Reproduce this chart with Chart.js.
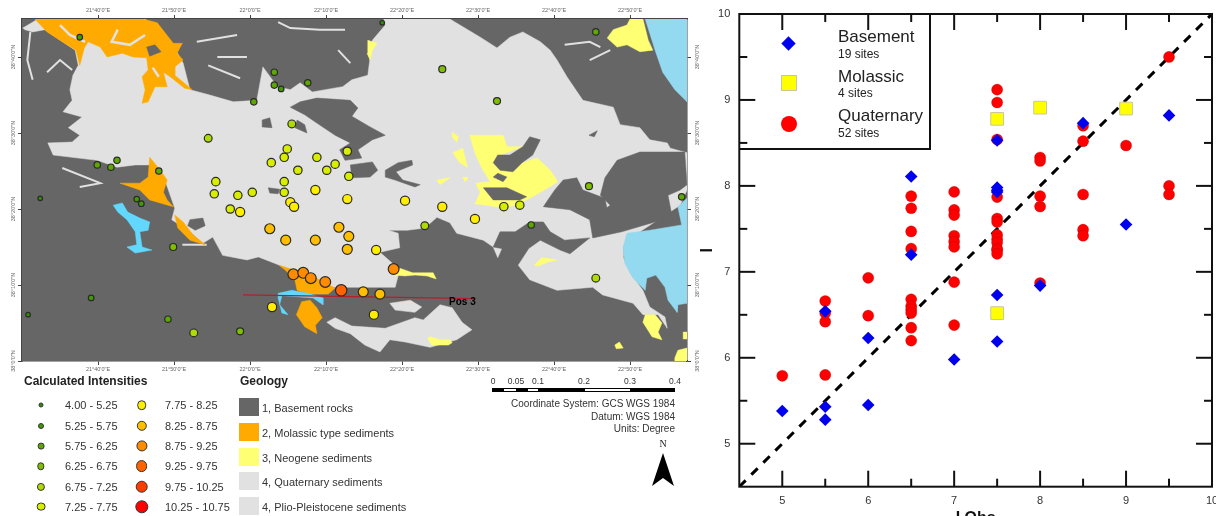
<!DOCTYPE html>
<html>
<head>
<meta charset="utf-8">
<script src="https://cdn.jsdelivr.net/npm/chart.js@4/dist/chart.umd.min.js"></script>
<style>
  html, body { margin: 0; padding: 0; background: #fff; }
  body { position: relative; width: 1216px; height: 516px; overflow: hidden; font-family: "Liberation Sans", Arial, sans-serif; color: #333; filter: blur(0.35px); }
  canvas { position: absolute; display: block; }
  #mapChart { left: 0; top: 0; }
  #scatterChart { left: 698px; top: 0; }
  .t { position: absolute; white-space: nowrap; line-height: 1; transform: translateY(-50%); }
  .b { position: absolute; }
  .dot { position: absolute; border-radius: 50%; border: 1px solid #333; box-sizing: border-box; transform: translate(-50%, -50%); }
</style>
</head>
<body>
<canvas id="mapChart" width="700" height="376"></canvas>
<canvas id="scatterChart" width="518" height="516"></canvas>
<div id="overlay"></div>
<script>
// ---- scatter panel data (I obs vs I calc) ----
const quaternaryObs = [5, 5.5, 5.5, 5.5, 5.5, 6, 6, 6.5, 6.5, 6.5, 6.5, 6.5, 6.5, 6.5, 6.5, 6.5, 6.5, 7, 7, 7, 7, 7, 7, 7, 7, 7.5, 7.5, 7.5, 7.5, 7.5, 7.5, 7.5, 7.5, 7.5, 7.5, 7.5, 7.5, 8, 8, 8, 8, 8, 8.5, 8.5, 8.5, 8.5, 8.5, 9, 9.5, 9.5, 9.5];
const quaternaryCalc = [5.79, 6.66, 6.52, 6.42, 5.80, 6.93, 6.49, 7.88, 7.74, 7.47, 7.27, 6.68, 6.60, 6.56, 6.52, 6.35, 6.20, 7.93, 7.72, 7.66, 7.42, 7.35, 7.29, 6.88, 6.38, 9.12, 8.97, 8.54, 7.87, 7.62, 7.58, 7.43, 7.38, 7.34, 7.27, 7.25, 7.21, 8.33, 8.29, 7.88, 7.76, 6.87, 8.70, 8.52, 7.90, 7.49, 7.42, 8.47, 9.50, 8.00, 7.90];
const basementObs = [5, 5.5, 5.5, 5.5, 6, 6, 6.5, 6.5, 7, 7.5, 7.5, 7.5, 7.5, 7.5, 7.5, 8, 8.5, 9, 9.5];
const basementCalc = [5.38, 6.54, 5.43, 5.28, 6.23, 5.45, 8.11, 7.20, 5.98, 8.53, 7.98, 7.95, 7.93, 6.73, 6.19, 6.84, 8.73, 7.55, 8.82];
const molassicObs = [7.5, 8, 9, 7.5];
const molassicCalc = [8.78, 8.91, 8.90, 6.52];
const identityLine = [4.5, 10];
const scatterMajor = [5, 6, 7, 8, 9, 10];
const scatterMinor = [5.5, 6.5, 7.5, 8.5, 9.5];

// ---- map panel data, arc minutes east of 21°30' and north of 38°00' ----
const mapLonTicks = [10, 20, 30, 40, 50, 60, 70, 80];
const mapLonLabels = ["21°40'0\"E", "21°50'0\"E", "22°0'0\"E", "22°10'0\"E", "22°20'0\"E", "22°30'0\"E", "22°40'0\"E", "22°50'0\"E"];
const mapLatTicks = [0, 10, 20, 30, 40];
const mapLatLabels = ["38°0'0\"N", "38°10'0\"N", "38°20'0\"N", "38°30'0\"N", "38°40'0\"N"];

const stationLon = [7.6, 33.2, 33.2, 34.1, 37.6, 30.5, 35.5, 24.5, 34.9, 42.8, 34.5, 38.8, 32.8, 41.2, 40.1, 36.3, 43.0, 25.5, 34.5, 25.3, 28.4, 30.3, 34.5, 38.6, 42.8, 12.5, 9.9, 11.7, 18.0, 2.4, 15.1, 47.4, 55.3, 62.5, 75.5, 74.6, 86.8, 50.4, 15.7, 35.3, 35.8, 27.4, 28.7, 41.7, 43.0, 42.8, 32.6, 34.7, 38.6, 19.9, 9.1, 0.8, 19.2, 22.6, 28.7, 35.7, 37.0, 38.0, 39.9, 42.0, 32.9, 55.3, 59.6, 53.0, 63.4, 65.5, 67.0, 46.6, 48.9, 44.9, 47.1, 46.3, 75.5];
const stationLat = [42.6, 38.0, 36.3, 35.8, 36.6, 34.1, 31.2, 29.3, 27.9, 27.6, 26.8, 26.8, 26.1, 25.9, 25.1, 25.1, 24.3, 23.6, 23.6, 22.0, 21.8, 22.2, 22.2, 22.5, 21.3, 26.4, 25.8, 25.5, 25.0, 21.4, 21.3, 44.5, 38.4, 34.2, 43.3, 23.0, 21.6, 21.1, 20.7, 20.9, 20.3, 20.0, 19.6, 17.6, 16.4, 14.7, 17.4, 15.9, 15.9, 15.0, 8.3, 6.1, 5.5, 3.7, 3.9, 11.4, 11.6, 10.9, 10.4, 9.3, 7.1, 20.3, 18.7, 17.8, 20.3, 20.5, 17.9, 14.6, 12.1, 9.1, 8.8, 6.1, 10.9];
const stationIntensity = [5.5, 5.9, 5.9, 5.6, 6.0, 6.0, 6.9, 6.9, 7.3, 7.5, 7.5, 7.5, 7.5, 7.5, 7.5, 7.5, 7.5, 7.5, 7.5, 7.5, 7.5, 7.5, 7.5, 8.0, 8.0, 6.0, 6.0, 6.0, 6.0, 5.2, 5.7, 5.2, 6.4, 6.4, 6.0, 6.5, 6.0, 8.0, 5.5, 8.0, 7.8, 7.5, 7.8, 8.5, 8.5, 8.5, 8.5, 8.5, 8.5, 6.3, 5.7, 5.2, 5.8, 6.9, 6.5, 9.0, 9.0, 9.0, 9.0, 9.6, 8.0, 8.0, 8.0, 7.0, 7.3, 7.3, 5.9, 8.0, 9.0, 8.5, 8.5, 8.0, 6.8];
const classLabels = ['4.00 - 5.25', '5.25 - 5.75', '5.75 - 6.25', '6.25 - 6.75', '6.75 - 7.25', '7.25 - 7.75', '7.75 - 8.25', '8.25 - 8.75', '8.75 - 9.25', '9.25 - 9.75', '9.75 - 10.25', '10.25 - 10.75'];
const classUpper = [5.25, 5.75, 6.25, 6.75, 7.25, 7.75, 8.25, 8.75, 9.25, 9.75, 10.25, 10.75];

const profileLine = [[29.1, 8.7], [59.7, 8.2]];

const quaternaryAreas = [
  [[0.1,43.8],[2.1,45],[16.2,45],[19.5,42.2],[21.2,39.2],[22.1,35.7],[24.7,35],[27.8,34.1],[30.9,34.3],[31.7,38.7],[33.6,36.1],[35.3,35.7],[36.6,36.6],[38.2,35.4],[42.2,36.1],[43.4,37],[45.5,37.6],[46.1,42.2],[47.8,44.2],[47.6,45],[56.3,45],[60.3,42.6],[62.5,41.2],[64.2,42.6],[65.9,43.3],[68.2,42],[69.5,40.9],[70.4,39.6],[71.7,37.4],[73.8,34.3],[77.8,33.4],[78.7,31.1],[81.3,30.7],[82.6,29.1],[84.9,28.7],[85.3,28],[87.5,27.4],[87.5,22.5],[86.6,20.5],[81.3,17],[79.1,15],[79.1,13.7],[80,11.6],[81.7,9.3],[82.6,7.1],[84.6,5.8],[84.9,4.3],[83.7,6.1],[81.7,6.1],[80.4,7.6],[76.4,8.7],[75.1,9.7],[70.4,9.3],[66.8,10.7],[65.3,12.6],[66.8,14.9],[63.6,15.9],[62.6,13.6],[62,15],[60.7,15.9],[57.2,16.8],[56.3,18.2],[54.6,18.9],[53,17.5],[50.7,17.2],[48.2,17.2],[49.5,16.8],[49.7,14.9],[47.1,14.3],[49.7,12],[49.1,9.7],[43.2,9.7],[40.9,9.7],[36.6,11.6],[33.9,12.6],[31.1,13.7],[29.6,13.3],[26.4,13.9],[25.1,16.3],[23.8,15.5],[22.1,17],[19.7,18.6],[20.1,20.1],[18.8,23.8],[16.8,25.8],[14.9,25.8],[12.5,25.5],[9.9,26.4],[4.1,27.1],[3.4,28.7],[6.6,28.8],[7.6,29.7],[6.1,30.7],[7.9,32.1],[5.4,32.8],[6.6,34.3],[6.3,35.7],[6.7,37.6],[7.4,38.9],[7,40.9],[3,43.6],[1.4,43.3],[0.4,43.6]],
  [[40.1,5.1],[41.2,5.7],[43.4,4.6],[47.8,4.3],[51.7,5.7],[52.8,5.4],[55,7.4],[56.6,7],[57.9,5.1],[59.2,4.1],[57.2,2.8],[53.7,1.8],[50.4,2.5],[48.4,2.8],[47.1,1.2],[45.1,2.1],[43.2,3.6],[41.2,4.3]],
  [[48.4,7.6],[51.1,8],[52.6,7.1],[51.7,6.4],[49.1,6.7]]
];
const basementAreas = [
  [[35.3,33.4],[36.6,34.1],[38.8,34.6],[43.2,34.3],[44.2,33.3],[43.4,32.2],[45.8,30.8],[47.8,29.7],[46.1,29.1],[44.2,27.8],[44.7,26.7],[42.5,26.4],[41.8,27.8],[43.2,28.7],[41.2,29.7],[38.8,31.3],[37.2,32.4]],
  [[43.2,25.8],[46.1,26.2],[46.8,25.1],[45.8,24.2],[43.4,24.1]],
  [[47.8,25.1],[49.5,26.1],[51.3,26.4],[51.4,25.8],[49.2,24.9],[50.1,23.8],[52.4,23.2],[51.7,22.9],[49.1,23.8],[47.8,24.2]],
  [[31.6,31.7],[32.6,32],[32.9,30.7],[31.6,30.8]],
  [[36.2,31.7],[37.2,31.1],[37.5,30],[35.9,30.7]],
  [[32.4,22.8],[33.9,22.6],[33.7,22],[32.6,22.1]],
  [[74.6,29.7],[75.7,30.3],[75.3,29.5]],
  [[78.3,26.4],[81.3,27.5],[87.2,27.5],[87.5,23.2],[86.6,22.5],[85,21.8],[85.5,19.2],[83.3,18.3],[78.9,17],[75.1,16.2],[74.7,18.6],[77.4,20.5],[76.1,21.8],[76.7,24.1]],
  [[62.9,17],[64.9,17],[66.8,18.3],[68.6,18.3],[69.5,17],[71.4,15.9],[74.7,16.2],[72.1,14.1],[70.8,14.6],[68.2,15.9],[66.8,14.9],[64.2,14.6],[62,15]],
  [[71.2,23.8],[73,24.1],[73.8,22.5],[76.7,21.4],[77,19.9],[74.7,18.6],[72.1,19.9],[68.6,20.3],[69.2,21.2],[70.1,22.5]],
  [[22.1,18.6],[23.8,18.8],[24.1,17.8],[22.8,17.2],[21.8,17.8]]
];
const molassicAreas = [
  [[1.7,45],[12.6,45],[13.2,43.6],[12.2,42],[10.3,41.3],[8.7,42],[8.2,41.2],[7.6,38.9],[7.1,40.9],[5.3,42],[3.3,43.3]],
  [[12.6,45],[15.9,45],[17.8,44.5],[19.9,41.8],[21.1,41.8],[20.4,40.5],[21.2,39.6],[20.1,38.7],[20.1,37.6],[22.4,35.7],[21.4,35.9],[19.5,37.4],[18.6,38],[19.1,36.1],[17.5,36.1],[16.6,34.1],[15.8,33.9],[16.2,35.7],[15.8,37.4],[16.6,38.3],[16.4,39.9],[14.6,40],[13.2,40.5],[11.2,40],[10.3,41.3],[12.2,42],[13.2,43.6]],
  [[16.8,26.8],[18.2,25.1],[19.1,23.8],[18.6,22.2],[19.1,21.2],[19.9,20.3],[16.8,21.2],[15.5,22.5],[12.9,23.4],[15.5,23.4],[16.6,24.2]],
  [[20.1,19.2],[21.2,18.3],[22.5,16.6],[24.1,15.3],[22.1,15.9],[20.5,17.5]],
  [[33.8,12.6],[36.6,11.7],[39.2,10.7],[41.2,9.6],[40.3,8.8],[37.6,8.8],[36.2,9.3],[35.9,10.7],[34.6,12]],
  [[36.8,7.8],[37.9,8],[38.8,7],[39.5,5.7],[38.6,4.7],[38.8,3.6],[37.2,4.5],[36.1,6.1]]
];
const molassicHoles = [
  [[16.4,41.3],[17.5,41.6],[18.3,40.7],[16.8,40.1]]
];
const neogeneAreas = [
  [[58.9,29.7],[63.3,29.7],[63.8,28.2],[65.8,28.2],[62.9,27.1],[64.9,25.8],[67.8,26.7],[69.5,25.1],[70.5,23.6],[68.2,22.2],[66.8,21.4],[64.6,20.4],[62.5,20.3],[59.6,20.7],[60.3,22.2],[59.7,23.4],[61.6,23.6],[60.5,25.4],[59.7,27.1]],
  [[56.6,30.1],[57.4,29.5],[57.2,28.8],[56.6,29.5]],
  [[56.7,27.4],[58,28],[58.6,25.5],[57.6,26.1]],
  [[54.6,23.8],[56.3,24.1],[55,23.2]],
  [[58,24.2],[58.7,24.1],[58.3,23.6]],
  [[80,45],[81.7,45],[82.4,42.2],[83,40.9],[81.3,40.7],[79.6,41.6],[78.3,41.3],[77,42.5],[77.8,43.6],[79.6,44.2]],
  [[45.5,42.2],[46.7,41.8],[46.1,40.9],[45.8,39.6],[45.4,40.5]],
  [[48.8,11.3],[49.7,12.2],[51.4,11.6],[54.1,11.6],[54.5,10.8],[53.3,11.2],[51.7,11.3],[50.4,11.2]],
  [[67.4,12.6],[68.4,13.6],[70.4,13.3],[69.1,13],[67.9,12.5]],
  [[82,6.1],[83.3,6.1],[84.2,5],[83.7,3.8],[84.2,2.8],[82.9,3.2],[81.7,5.1]],
  [[78,2.1],[78.6,2.5],[79.1,1.7],[78.2,1.6]],
  [[85.9,0],[85.9,0.4],[86.3,1.4],[87.5,1.7],[87.5,0]],
  [[87,3.8],[87.5,3.8],[87.5,2.9],[87,2.9]],
  [[53.7,3.2],[55,2.8],[56.3,2.8],[56.6,2.4],[56.1,2.1],[53.9,2.1],[53.4,3]]
];
const neogeneHoles = [
  [[62,26.1],[62.6,27.1],[64.2,27.1],[65.9,28.2],[66.8,29.5],[68.2,29.1],[67.2,27.1],[65.8,26.1],[64.6,24.9],[62.9,25.1]],
  [[62.6,24.7],[63.8,24.2],[63.3,23.6],[62,24.2]],
  [[60.7,22.8],[63.8,22.8],[66.4,21.6],[65.5,21.2],[62,21.2]]
];
const seaAreas = [
  [[82,45],[87.5,45],[87.5,34.1],[85.9,35.7],[84.3,38],[83.3,40.9]],
  [[79.1,15],[79.6,16.8],[82.6,17.2],[86.8,17.9],[86.3,20.3],[87.5,21.4],[87.5,7.6],[86.3,7.4],[86.2,6.4],[85,8],[84.6,9.7],[83.4,11.3],[82.2,10.9],[82,9.3],[80.4,10.9],[79.3,12.9]]
];
const lakeAreas = [
  [[12,20.5],[13.2,20.8],[13.9,19.6],[15.5,18.8],[16.8,18.3],[16.6,17.2],[15.5,17],[15.8,15],[17.1,14.6],[14.9,14.2],[13.8,15],[15.1,15.3],[14.9,17],[13.8,18.6],[12.6,19.6]],
  [[33.7,8.9],[35.5,9.3],[37.6,8.9],[39.6,8.3],[39.6,7.4],[38.3,8.3],[34.2,8.6],[33.9,7.4],[35,6.1],[34.2,6.3],[33.7,8.3]]
];
const quaternaryStreaks = [
  [[1.1,43.3],[0.7,39.6],[1.4,37]],
  [[3.3,38],[5,39.6],[6.6,38.3]],
  [[5.3,25.4],[10.3,23.4],[7.6,22.9]],
  [[21.1,15.3],[24.3,15.3]],
  [[23,42],[28.3,42.9]],
  [[25.7,40],[29.6,40]],
  [[24.5,38.9],[28.7,37.2]],
  [[33.7,44.6],[35.3,43.8],[39.2,43.6],[42.5,43.6]],
  [[41.6,40.9],[43.2,39.2]],
  [[40.9,32.1],[43.2,32.6]],
  [[71.4,41.6],[74.7,42],[76.1,41.3]],
  [[74.7,39.6],[77.4,40.9]],
  [[78.7,21.2],[82.6,22.5],[86.6,24.5]],
  [[80,19.2],[84.6,20.5]]
];
// grey valleys cutting through the orange block in the north west
const molassicGaps = [
  [[5,44.2],[6.3,42.9],[8.3,42]],
  [[12.6,43.6],[11.8,42],[14.2,41.6],[16.2,42.9]],
  [[17.2,38.6],[18,37.4]]
];

// ---- colours ----
const COL_BASEMENT = '#666666';
const COL_QUAT = '#e1e1e1';
const COL_MOLASSIC = '#ffaa00';
const COL_NEOGENE = '#ffff73';
const COL_SEA = '#93d9f0';
const COL_LAKE = '#63d8ff';
const classColors = ['#2f8f00', '#3f9c00', '#5ca800', '#7fbf00', '#aedb00', '#d8ee00', '#ffee00', '#ffbf00', '#ff8c00', '#ff6400', '#ff3c00', '#ff0000'];
const classRadii = [2, 2.5, 2.9, 3.2, 3.6, 3.9, 4.3, 4.7, 5.1, 5.4, 5.8, 6.2];

function classOf(v) {
  const i = classUpper.findIndex(u => v <= u);
  return i < 0 ? classUpper.length - 1 : i;
}
function toXY(pairs) { return pairs.map(p => ({ x: p[0], y: p[1] })); }

// build the layered map datasets, bottom layer first
const mapLayers = [];
function addAreas(list, color) {
  list.forEach(a => {
    mapLayers.push({ data: toXY(a.concat([a[0]])), showLine: true, fill: 'shape', backgroundColor: color, borderColor: color, borderWidth: 0.5, pointRadius: 0 });
  });
}
function addStreaks(list, color, w) {
  list.forEach(a => {
    mapLayers.push({ data: toXY(a), showLine: true, fill: false, borderColor: color, borderWidth: w, pointRadius: 0 });
  });
}
addAreas(quaternaryAreas, COL_QUAT);
addStreaks(quaternaryStreaks, COL_QUAT, 2);
addAreas(molassicAreas, COL_MOLASSIC);
addStreaks(molassicGaps, COL_QUAT, 2.5);
addAreas(molassicHoles, COL_BASEMENT);
addAreas(neogeneAreas, COL_NEOGENE);
addAreas(basementAreas, COL_BASEMENT);
addAreas(neogeneHoles, COL_BASEMENT);
addAreas(seaAreas, COL_SEA);
addAreas(lakeAreas, COL_LAKE);
mapLayers.push({ data: toXY(profileLine), showLine: true, fill: false, borderColor: '#b3202a', borderWidth: 1.2, pointRadius: 0 });
mapLayers.push({
  data: stationLon.map((x, i) => ({ x, y: stationLat[i] })),
  showLine: false,
  pointRadius: stationIntensity.map(v => classRadii[classOf(v)] + 0.3),
  backgroundColor: stationIntensity.map(v => classColors[classOf(v)]),
  borderColor: '#2a2a2a',
  borderWidth: 1.2
});
mapLayers.forEach((d, i) => { d.order = mapLayers.length - i; });

const mapFont = { family: '"Liberation Sans", Arial, sans-serif', size: 5.5 };
const mapBackdrop = {
  id: 'mapBackdrop',
  beforeDatasetsDraw(chart) {
    const a = chart.chartArea;
    chart.ctx.save();
    chart.ctx.fillStyle = COL_BASEMENT;
    chart.ctx.fillRect(a.left, a.top, a.right - a.left, a.bottom - a.top);
    chart.ctx.restore();
  },
  afterDatasetsDraw(chart) {
    const ctx = chart.ctx;
    ctx.save();
    ctx.font = 'bold 10px "Liberation Sans", Arial, sans-serif';
    ctx.fillStyle = '#000';
    ctx.textAlign = 'right';
    ctx.textBaseline = 'middle';
    ctx.fillText('Pos 3', chart.scales.x.getPixelForValue(profileLine[1][0]), chart.scales.y.getPixelForValue(profileLine[1][1]) + 4);
    ctx.restore();
  }
};

function lonAxis(position, size) {
  return {
    type: 'linear', position, min: 0, max: 87.5,
    afterBuildTicks: s => { s.ticks = mapLonTicks.map(v => ({ value: v })); },
    afterFit: s => { s.height = size; s.paddingLeft = 0; s.paddingRight = 0; },
    grid: { drawOnChartArea: false, tickLength: 4, tickColor: '#444', tickWidth: 1 },
    border: { color: '#444', width: 1.5 },
    ticks: { font: mapFont, color: '#666', padding: 1, maxRotation: 0, autoSkip: false, callback: v => mapLonLabels[mapLonTicks.indexOf(v)] }
  };
}
function latAxis(position, size, pad) {
  return {
    type: 'linear', position, min: 0, max: 45,
    afterBuildTicks: s => { s.ticks = mapLatTicks.map(v => ({ value: v })); },
    afterFit: s => { s.width = size; s.paddingTop = 0; s.paddingBottom = 0; },
    grid: { drawOnChartArea: false, tickLength: 4, tickColor: '#444', tickWidth: 1 },
    border: { color: '#444', width: 1.5 },
    ticks: { font: mapFont, color: '#666', padding: pad, minRotation: 90, maxRotation: 90, crossAlign: 'center', autoSkip: false, callback: v => mapLatLabels[mapLatTicks.indexOf(v)] }
  };
}

new Chart(document.getElementById('mapChart'), {
  type: 'scatter',
  data: { datasets: mapLayers },
  plugins: [mapBackdrop],
  options: {
    responsive: false,
    animation: false,
    events: [],
    layout: { autoPadding: false, padding: 0 },
    plugins: { legend: { display: false }, tooltip: { enabled: false } },
    scales: {
      x: lonAxis('bottom', 15),
      x2: lonAxis('top', 19),
      y: latAxis('left', 22, -8),
      y2: latAxis('right', 13, -6)
    }
  }
});

// ---- scatter panel ----
const frameTicks = {
  id: 'frameTicks',
  afterDraw(chart) {
    const ctx = chart.ctx, a = chart.chartArea, sx = chart.scales.x, sy = chart.scales.y;
    ctx.save();
    ctx.strokeStyle = '#111';
    ctx.lineWidth = 2;
    ctx.strokeRect(a.left, a.top, a.right - a.left, a.bottom - a.top);
    const mark = (x1, y1, x2, y2) => { ctx.beginPath(); ctx.moveTo(x1, y1); ctx.lineTo(x2, y2); ctx.stroke(); };
    [[scatterMajor, 16], [scatterMinor, 8]].forEach(([vals, len]) => {
      vals.forEach(v => {
        if (v < 10) {
          const px = sx.getPixelForValue(v), py = sy.getPixelForValue(v);
          mark(px, a.bottom, px, a.bottom - len);
          mark(px, a.top, px, a.top + len);
          mark(a.left, py, a.left + len, py);
          mark(a.right, py, a.right - len, py);
        }
      });
    });
    ctx.restore();
  }
};

const tickFont = { family: '"Liberation Sans", Arial, sans-serif', size: 11 };
const titleFont = { family: '"Liberation Sans", Arial, sans-serif', size: 16, weight: 'bold' };

new Chart(document.getElementById('scatterChart'), {
  type: 'scatter',
  data: {
    datasets: [
      { data: basementObs.map((x, i) => ({ x, y: basementCalc[i] })), pointStyle: 'rectRot', pointRadius: 6.3, backgroundColor: '#0000ee', borderWidth: 0, order: 1 },
      { data: molassicObs.map((x, i) => ({ x, y: molassicCalc[i] })), pointStyle: 'rect', pointRadius: 9, backgroundColor: '#ffff00', borderColor: '#c8c8a0', borderWidth: 1, order: 2 },
      { data: quaternaryObs.map((x, i) => ({ x, y: quaternaryCalc[i] })), pointStyle: 'circle', pointRadius: 5.6, backgroundColor: '#ff0000', borderColor: 'rgba(140,0,0,0.5)', borderWidth: 0.5, order: 3 },
      { data: identityLine.map(v => ({ x: v, y: v })), showLine: true, fill: false, pointRadius: 0, borderColor: '#000', borderWidth: 3, borderDash: [9, 8], order: 4 }
    ]
  },
  plugins: [frameTicks],
  options: {
    responsive: false,
    animation: false,
    events: [],
    layout: { autoPadding: false, padding: { top: 14, right: 4, left: 0, bottom: 0 } },
    plugins: { legend: { display: false }, tooltip: { enabled: false } },
    scales: {
      x: {
        type: 'linear', min: 4.5, max: 10,
        afterBuildTicks: s => { s.ticks = scatterMajor.map(v => ({ value: v })); },
        afterFit: s => { s.height = 29.3; s.paddingLeft = 0; s.paddingRight = 0; },
        grid: { display: false },
        border: { display: false },
        ticks: { font: tickFont, color: '#333', padding: 0, maxRotation: 0, autoSkip: false },
        title: { display: true, text: 'I Obs', font: titleFont, color: '#111', padding: { top: 0, bottom: -12.6 } }
      },
      y: {
        type: 'linear', min: 4.5, max: 10,
        afterBuildTicks: s => { s.ticks = scatterMajor.map(v => ({ value: v })); },
        afterFit: s => { s.width = 41.3; s.paddingTop = 0; s.paddingBottom = 0; },
        grid: { display: false },
        border: { display: false },
        ticks: { font: tickFont, color: '#333', padding: 1, autoSkip: false },
        title: { display: true, text: 'I', font: titleFont, color: '#111', padding: { top: 0.4, bottom: 0 } }
      }
    }
  }
});

// ---- page furniture: legends, scale bar, north arrow ----
const overlay = document.getElementById('overlay');
function text(str, x, y, size, opts) {
  const o = opts || {};
  const el = document.createElement('div');
  el.className = 't';
  el.textContent = str;
  el.style.fontSize = size + 'px';
  el.style.top = y + 'px';
  if (o.right !== undefined) el.style.right = (1216 - o.right) + 'px'; else el.style.left = x + 'px';
  if (o.bold) el.style.fontWeight = 'bold';
  if (o.color) el.style.color = o.color;
  if (o.family) el.style.fontFamily = o.family;
  overlay.appendChild(el);
  return el;
}
function box(x, y, w, h, css) {
  const el = document.createElement('div');
  el.className = 'b';
  el.style.cssText = `left:${x}px;top:${y}px;width:${w}px;height:${h}px;${css}`;
  overlay.appendChild(el);
  return el;
}

// intensity legend
text('Calculated Intensities', 24, 381, 12, { bold: true, color: '#222' });
const rowY = [405, 425.7, 446, 466.3, 486.7, 506.7];
classLabels.forEach((lab, i) => {
  const col = i < 6 ? 0 : 1, y = rowY[i % 6];
  const d = document.createElement('div');
  d.className = 'dot';
  const size = 2 * classRadii[i] + 1;
  d.style.cssText = `left:${col ? 141.5 : 41}px;top:${y}px;width:${size}px;height:${size}px;background:${classColors[i]}`;
  overlay.appendChild(d);
  text(lab, col ? 165 : 65, y, 11);
});

// geology legend
text('Geology', 240, 381, 12, { bold: true, color: '#222' });
const geoLabels = ['1, Basement rocks', '2, Molassic type sediments', '3, Neogene sediments', '4, Quaternary sediments', '4, Plio-Pleistocene sediments'];
const geoColors = [COL_BASEMENT, COL_MOLASSIC, COL_NEOGENE, COL_QUAT, COL_QUAT];
const geoTop = [398, 423, 448, 472, 497];
geoLabels.forEach((lab, i) => {
  box(239, geoTop[i], 20, 18, `background:${geoColors[i]}`);
  text(lab, 262, geoTop[i] + 9.5, 11);
});

// scale bar
const barLabels = ['0', '0.05', '0.1', '0.2', '0.3', '0.4'];
const barX = [493, 516, 538, 584, 630, 675];
barLabels.forEach((lab, i) => { text(lab, barX[i], 381, 8.5).style.transform = 'translate(-50%,-50%)'; });
[[492, 12, 1], [504, 12, 0], [516, 12, 1], [528, 10, 0], [538, 47, 1], [585, 45, 0], [630, 45, 1]].forEach(([x, w, on]) => {
  box(x, 388, w, 4, on ? 'background:#000' : 'background:#fff;border-top:1px solid #000;border-bottom:1px solid #000;box-sizing:border-box');
});
text('Coordinate System: GCS WGS 1984', 0, 404, 10, { right: 675 });
text('Datum: WGS 1984', 0, 416.7, 10, { right: 675 });
text('Units: Degree', 0, 428.7, 10, { right: 675 });

// north arrow
text('N', 659.5, 444, 10, { family: '"Liberation Serif", serif', color: '#222' });
box(652, 453, 22, 33, 'background:#000;clip-path:polygon(50% 0,100% 100%,50% 76%,0 100%)');

// scatter legend box, open so the frame ticks still show through
box(739, 14, 191.5, 135.5, 'border-right:2px solid #111;border-bottom:2px solid #111;box-sizing:border-box');
box(782, 37, 13, 13, 'background:#0000ee;transform:rotate(45deg) scale(0.78)');
box(780.5, 74.5, 16, 16, 'background:#ffff00;border:1px solid #c8c8a0;box-sizing:border-box');
box(781, 115.5, 16, 16, 'background:#ff0000;border-radius:50%');
[['Basement', '19 sites', 36, 54], ['Molassic', '4 sites', 76, 93], ['Quaternary', '52 sites', 115, 133]].forEach(([a, b, y1, y2]) => {
  text(a, 838, y1, 17, { color: '#222' });
  text(b, 838, y2, 12, { color: '#222' });
});
</script>
</body>
</html>
